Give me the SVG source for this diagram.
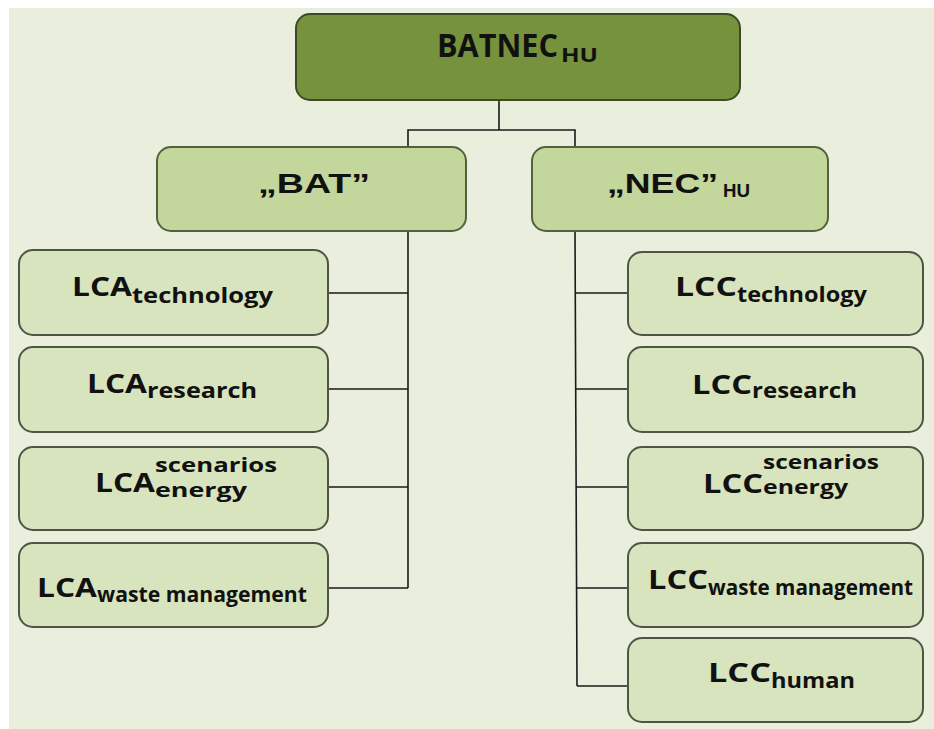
<svg xmlns="http://www.w3.org/2000/svg" width="934" height="729" viewBox="0 0 934 729">
<style>
.top{fill:#76923c;stroke:#3d4a26;stroke-width:2}
.mid{fill:#c3d69b;stroke:#55603f;stroke-width:2}
.leaf{fill:#d7e4bd;stroke:#4d5646;stroke-width:2}
.c{fill:none;stroke:#1a1a1a;stroke-width:1.6}
.t{font-family:"Open Sans",Lato,sans-serif;font-weight:bold;fill:#111}
.a{font-family:"Liberation Sans",Arial,sans-serif;font-weight:bold;fill:#111}
.m{font-size:27px}
.s{font-size:21px}
.ss{font-size:19px}
</style>
<rect x="0" y="0" width="934" height="729" fill="#ffffff"/>
<rect x="9" y="8" width="925" height="721" fill="#e9efdc"/>
<g id="connectors">
<path class="c" d="M499 100V130M408 147V130H575V147"/>
<path class="c" d="M408 231V588M328 293H408M328 389H408M328 487H408M328 588H408"/>
<path class="c" d="M575 231L577 686M576 293H628M576 389H628M576 487H628M577 588H628M577 686H628"/>
</g>
<g id="batnec">
<rect class="top" x="296" y="14" width="444" height="86" rx="14"/>
<text class="t" x="437" y="57" font-size="32" textLength="121" lengthAdjust="spacingAndGlyphs">BATNEC</text>
<text class="t" x="561" y="62" font-size="19" textLength="37" lengthAdjust="spacingAndGlyphs">HU</text>
</g>
<g id="bat">
<rect class="mid" x="157" y="147" width="309" height="84" rx="14"/>
<text class="a" x="258" y="193" font-size="28" textLength="112" lengthAdjust="spacingAndGlyphs">„BAT”</text>
</g>
<g id="nec">
<rect class="mid" x="532" y="147" width="296" height="84" rx="14"/>
<text class="a" x="607" y="193" font-size="27" textLength="111" lengthAdjust="spacingAndGlyphs">„NEC”</text>
<text class="a" x="723" y="197" font-size="18" textLength="27" lengthAdjust="spacingAndGlyphs">HU</text>
</g>
<g id="lca-technology">
<rect class="leaf" x="19" y="250" width="309" height="85" rx="14"/>
<text class="t m" x="72" y="296" textLength="60" lengthAdjust="spacingAndGlyphs">LCA</text>
<text class="t s" x="132" y="303" textLength="141" lengthAdjust="spacingAndGlyphs">technology</text>
</g>
<g id="lca-research">
<rect class="leaf" x="19" y="347" width="309" height="85" rx="14"/>
<text class="t m" x="87" y="393" textLength="60" lengthAdjust="spacingAndGlyphs">LCA</text>
<text class="t s" x="147" y="398" textLength="110" lengthAdjust="spacingAndGlyphs">research</text>
</g>
<g id="lca-energy">
<rect class="leaf" x="19" y="447" width="309" height="83" rx="14"/>
<text class="t m" x="95" y="492" textLength="60" lengthAdjust="spacingAndGlyphs">LCA</text>
<text class="t ss" x="155" y="472" textLength="122" lengthAdjust="spacingAndGlyphs">scenarios</text>
<text class="t ss" x="155" y="497" textLength="92" lengthAdjust="spacingAndGlyphs">energy</text>
</g>
<g id="lca-waste">
<rect class="leaf" x="19" y="543" width="309" height="84" rx="14"/>
<text class="t m" x="37" y="597" textLength="60" lengthAdjust="spacingAndGlyphs">LCA</text>
<text class="t s" x="97" y="602" textLength="210" lengthAdjust="spacingAndGlyphs">waste management</text>
</g>
<g id="lcc-technology">
<rect class="leaf" x="628" y="252" width="295" height="83" rx="14"/>
<text class="t m" x="675" y="296" textLength="62" lengthAdjust="spacingAndGlyphs">LCC</text>
<text class="t s" x="737" y="302" textLength="130" lengthAdjust="spacingAndGlyphs">technology</text>
</g>
<g id="lcc-research">
<rect class="leaf" x="628" y="347" width="295" height="85" rx="14"/>
<text class="t m" x="692" y="394" textLength="60" lengthAdjust="spacingAndGlyphs">LCC</text>
<text class="t s" x="752" y="398" textLength="105" lengthAdjust="spacingAndGlyphs">research</text>
</g>
<g id="lcc-energy">
<rect class="leaf" x="628" y="447" width="295" height="83" rx="14"/>
<text class="t m" x="703" y="493" textLength="60" lengthAdjust="spacingAndGlyphs">LCC</text>
<text class="t ss" x="763" y="469" textLength="116" lengthAdjust="spacingAndGlyphs">scenarios</text>
<text class="t ss" x="763" y="494" textLength="85" lengthAdjust="spacingAndGlyphs">energy</text>
</g>
<g id="lcc-waste">
<rect class="leaf" x="628" y="543" width="295" height="84" rx="14"/>
<text class="t m" x="648" y="589" textLength="60" lengthAdjust="spacingAndGlyphs">LCC</text>
<text class="t s" x="708" y="595" textLength="205" lengthAdjust="spacingAndGlyphs">waste management</text>
</g>
<g id="lcc-human">
<rect class="leaf" x="628" y="638" width="295" height="84" rx="14"/>
<text class="t m" x="708" y="682" textLength="63" lengthAdjust="spacingAndGlyphs">LCC</text>
<text class="t s" x="771" y="688" textLength="84" lengthAdjust="spacingAndGlyphs">human</text>
</g>
</svg>
